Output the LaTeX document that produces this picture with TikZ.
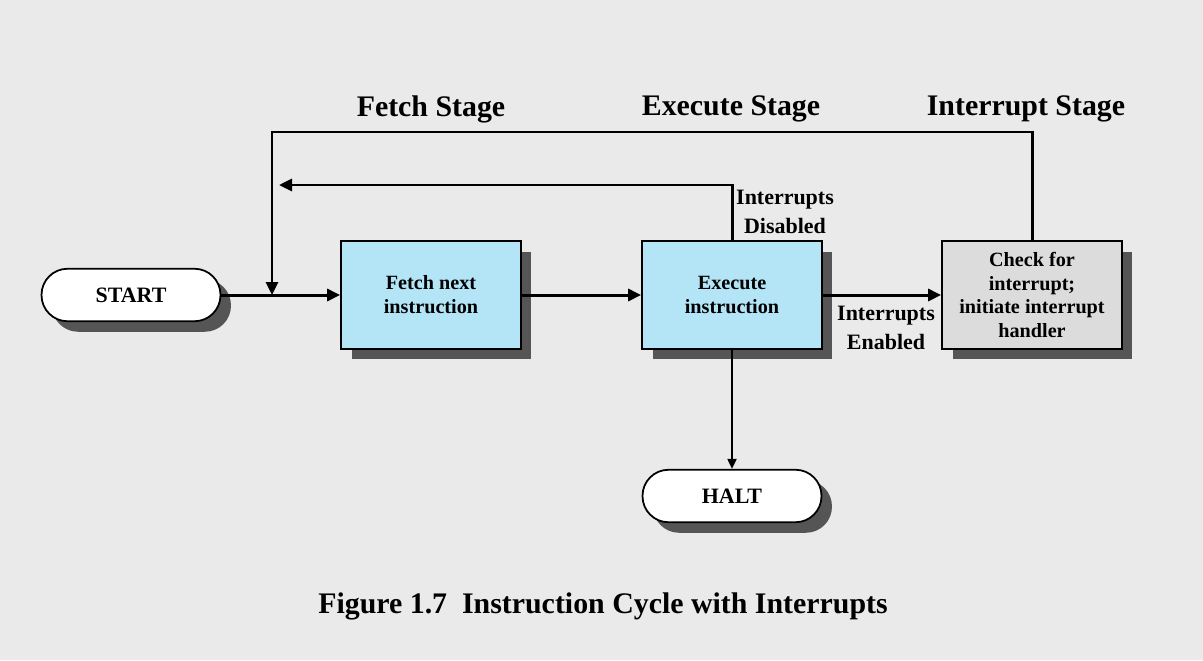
\documentclass[tikz,border=0pt]{standalone}
\usepackage{fontspec}
\setmainfont{Liberation Serif}
\usetikzlibrary{arrows.meta, positioning, shadows}
\definecolor{bgcol}{HTML}{EAEAEA}
\definecolor{boxblue}{HTML}{B3E5F7}
\definecolor{boxgray}{HTML}{DCDCDC}
\definecolor{shadowcol}{HTML}{555555}

\begin{document}
\begin{tikzpicture}[x=0.02cm, y=-0.02cm,
    darkshadow/.style={drop shadow={shadow xshift=0.21cm, shadow yshift=-0.21cm, fill=shadowcol, opacity=1}},
    stepbox/.style={draw, line width=1pt, fill=boxblue, minimum width=3.6cm, minimum height=2.16cm,
        align=center, font=\fontsize{11.5}{13.6}\selectfont\bfseries, darkshadow},
    terminal/.style={draw, line width=1pt, fill=white, rounded corners=0.52cm, minimum width=3.58cm,
        minimum height=1.05cm, font=\fontsize{12.5}{15}\selectfont\bfseries, darkshadow},
    flow/.style={line width=1.7pt, -{Triangle[length=0.26cm, width=0.24cm]}},
    stage/.style={font=\fontsize{17}{20}\selectfont\bfseries},
    cond/.style={align=center, font=\fontsize{12.5}{16.4}\selectfont\bfseries}]

    % Background and frame size
    \fill[bgcol] (0,0) rectangle (1203,660);
    \useasboundingbox (0,0) rectangle (1203,660);

    % Stage titles
    \node[stage] (fstage) at (431,109) {Fetch Stage};
    \node[stage] (estage) at (731,109) {Execute Stage};
    \node[stage] (istage) at (1026,109) {Interrupt Stage};

    % Terminals and steps
    \node[terminal] (start) at (131,295) {START};
    \node[stepbox] (fetch) at (431,295) {Fetch next\\instruction};
    \node[stepbox] (exec) at (732,295) {Execute\\instruction};
    \node[stepbox, fill=boxgray] (check) at (1032,295) {Check for\\interrupt;\\initiate interrupt\\handler};
    \node[terminal] (halt) at (732,496) {HALT};

    % Loop-back points
    \coordinate (join) at (272,295);
    \coordinate (back) at (279,185);
    \coordinate (topleft) at (272,132);

    % Main flow
    \draw[flow] (start) -- (fetch);
    \draw[flow] (fetch) -- (exec);
    \draw[flow] (exec) -- (check);
    \draw[line width=1.1pt, -{Triangle[length=0.2cm, width=0.18cm]}] (exec) -- (halt);

    % Returns to fetch
    \draw[flow] (exec.north) |- (back);
    \draw[flow] (check.north) |- (topleft) -- (join);

    % Condition labels
    \node[cond] (disabled) at (785,212) {Interrupts\\Disabled};
    \node[cond] (enabled) at (886,328) {Interrupts\\Enabled};

    % Caption
    \node[stage] (caption) at (603,606) {Figure 1.7\ \ Instruction Cycle with Interrupts};

\end{tikzpicture}
\end{document}
